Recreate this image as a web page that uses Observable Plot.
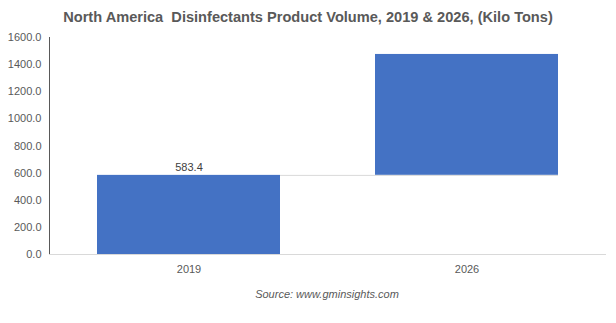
<!DOCTYPE html>
<html>
<head>
<meta charset="utf-8">
<script src="https://cdn.jsdelivr.net/npm/d3@7"></script>
<script src="https://cdn.jsdelivr.net/npm/@observablehq/plot@0.6"></script>
<style>
  html, body { margin: 0; padding: 0; background: #fff; }
  #wrap { position: relative; width: 616px; height: 323px; font-family: "Liberation Sans", Arial, sans-serif; }
  #title { position: absolute; left: 0; top: 7px; width: 616px; text-align: center; font-size: 14.6px; line-height: 20px; font-weight: bold; color: #595959; white-space: pre; }
  #chart { position: absolute; left: 0; top: 30px; }
  #caption { position: absolute; left: 0; top: 286px; width: 654px; text-align: center; font-size: 11px; line-height: 16px; font-style: italic; color: #595959; }
  #chart svg [aria-label="y-axis"] path, #chart svg [aria-label="y-axis line"] line, #chart svg [aria-label="y-axis line"] { stroke: #d9d9d9; }
</style>
</head>
<body>
<div id="wrap">
  <div id="title">North America  Disinfectants Product Volume, 2019 &amp; 2026, (Kilo Tons)</div>
  <div id="chart"></div>
  <div id="caption">Source: www.gminsights.com</div>
</div>
<script>
const years = ["2019", "2026"];
const values = [583.4, 1475];
const labelText = ["583.4"];
const yTicks = [0, 200, 400, 600, 800, 1000, 1200, 1400, 1600];

const bars = years.map((yr, i) => ({ year: yr, y1: i === 0 ? 0 : values[i - 1], y2: values[i] }));

function build(bw) {
  const marks = [
    Plot.ruleY([0], { stroke: "#d9d9d9" }),
    Plot.barY(bars, { x: "year", y1: "y1", y2: "y2", fill: "#4472C4" }),
    Plot.text([{ year: years[0], v: values[0], t: labelText[0] }], {
      x: "year", y: "v", text: "t", dy: -8, fill: "#404040", fontSize: 11
    })
  ];
  if (bw != null) {
    marks.push(Plot.ruleY([values[0]], { x1: () => years[0], x2: () => years[1], insetLeft: bw, stroke: "#d9d9d9" }));
  }
  return Plot.plot({
    width: 616,
    height: 250,
    marginLeft: 49,
    marginRight: 10,
    marginTop: 7,
    marginBottom: 26,
    style: { fontFamily: "'Liberation Sans', Arial, sans-serif", fontSize: "11px", color: "#595959", background: "#fff" },
    x: { domain: years, paddingInner: 0.34, paddingOuter: 0.17, tickSize: 0, tickPadding: 11, label: null },
    y: { domain: [0, 1600], ticks: yTicks, tickFormat: d3.format(".1f"), tickSize: 0, tickPadding: 8, label: null, line: true },
    marks
  });
}
const first = build(null);
const bw = first.scale("x").bandwidth;
const plot = build(bw);
document.getElementById("chart").appendChild(plot);
</script>
</body>
</html>
